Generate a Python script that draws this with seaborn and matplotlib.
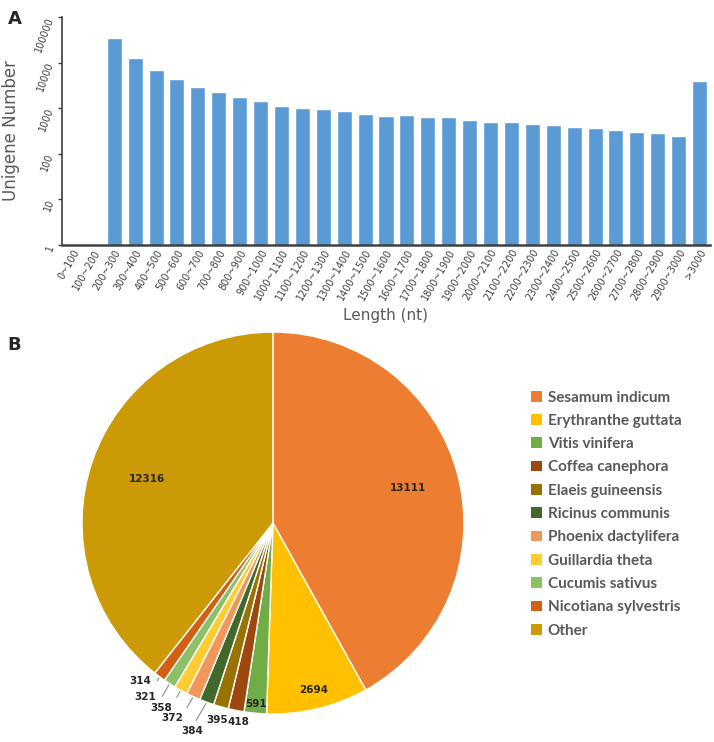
import numpy as np
import pandas as pd
import seaborn as sns
import matplotlib.pyplot as plt
from matplotlib.patches import Patch

# Panel A data: unigene length distribution
length_bins = ["0~100", "100~200", "200~300", "300~400", "400~500", "500~600",
               "600~700", "700~800", "800~900", "900~1000", "1000~1100",
               "1100~1200", "1200~1300", "1300~1400", "1400~1500", "1500~1600",
               "1600~1700", "1700~1800", "1800~1900", "1900~2000", "2000~2100",
               "2100~2200", "2200~2300", "2300~2400", "2400~2500", "2500~2600",
               "2600~2700", "2700~2800", "2800~2900", "2900~3000", ">3000"]
unigene_counts = [0, 0, 35150, 12600, 6770, 4300, 2920, 2265, 1790, 1415, 1117,
                  1026, 946, 881, 746, 685, 697, 631, 641, 551, 490, 498, 457,
                  422, 387, 362, 333, 306, 286, 249, 4010]
y_ticks = [1, 10, 100, 1000, 10000, 100000]

# Panel B data: species distribution
species = ["Sesamum indicum", "Erythranthe guttata", "Vitis vinifera",
           "Coffea canephora", "Elaeis guineensis", "Ricinus communis",
           "Phoenix dactylifera", "Guillardia theta", "Cucumis sativus",
           "Nicotiana sylvestris", "Other"]
species_counts = [13111, 2694, 591, 418, 395, 384, 372, 358, 321, 314, 12316]
species_colors = ["#ED7D31", "#FFC000", "#70AD47", "#9E480E", "#997300",
                  "#43682B", "#F1975A", "#FFCD33", "#8CC168", "#D26012", "#CC9A06"]

sns.set_theme(style="white")
plt.rcParams['font.family'] = ['DejaVu Sans']

GREY = "#595959"
DARK = "#404040"

fig = plt.figure(figsize=(7.14, 7.42), dpi=100)

# ── A: bar chart ───────────────────────────────────────────
ax1 = fig.add_axes([0.0868, 0.670, 0.9076, 0.307])
df = pd.DataFrame({"bin": length_bins, "count": unigene_counts})
sns.barplot(data=df, x="bin", y="count", color="#5B9BD5", saturation=1,
            width=0.72, edgecolor="white", linewidth=1, ax=ax1)
ax1.set_yscale("log")
ax1.set_ylim(1, 100000)
ax1.set_xlim(-0.5, len(length_bins) - 0.5)
ax1.set_yticks(y_ticks)
ax1.set_yticklabels([str(t) for t in y_ticks])
ax1.minorticks_off()
ax1.tick_params(axis="y", labelsize=7, colors=DARK,
                length=3, width=1, left=True, pad=5)
ax1.tick_params(axis="x", labelsize=7, colors=DARK, length=0, pad=2)
for lbl in ax1.get_xticklabels():
    lbl.set_rotation(60)
    lbl.set_ha("right")
    lbl.set_rotation_mode("anchor")
for lbl in ax1.get_yticklabels():
    lbl.set_rotation(70)
    lbl.set_rotation_mode("anchor")
    lbl.set_va("center")
    lbl.set_ha("right")
for s in ["top", "right"]:
    ax1.spines[s].set_visible(False)
ax1.spines["left"].set_color(DARK)
ax1.spines["left"].set_linewidth(1.2)
ax1.spines["bottom"].set_color(DARK)
ax1.spines["bottom"].set_linewidth(1.8)
ax1.set_xlabel("Length (nt)", fontsize=11, color=GREY, labelpad=4)
ax1.set_ylabel("Unigene Number", fontsize=12, color=GREY, labelpad=10)

fig.text(0.011, 0.975, "A", fontsize=13, fontweight="bold", va="center")
fig.text(0.011, 0.535, "B", fontsize=13, fontweight="bold", va="center")

# ── B: pie chart ───────────────────────────────────────────
ax2 = fig.add_axes([0.1148, 0.0377, 0.535, 0.5148])
wedges, _ = ax2.pie(species_counts, colors=species_colors, startangle=90,
                    counterclock=False, radius=1,
                    wedgeprops=dict(edgecolor="white", linewidth=1))
ax2.set_aspect("equal")
ax2.set_xlim(-1, 1)
ax2.set_ylim(-1, 1)
ax2.axis("off")

# label radius and angle shift per slice (style, not data)
label_r = [0.73, 0.90, 0.95, 1.06, 1.07, 1.17, 1.15, 1.13, 1.13, 1.08, 0.70]
label_da = [0, 0, 0, 1.2, 0.1, -1.0, -2.5, -2.3, -3.5, -3.7, 0]
leader = [False, False, False, False, False, True, True, True, True, True, False]

for i, w in enumerate(wedges):
    mid = np.deg2rad((w.theta1 + w.theta2) / 2)
    ang = mid + np.deg2rad(label_da[i])
    tx, ty = label_r[i] * np.cos(ang), label_r[i] * np.sin(ang)
    if leader[i]:
        ex, ey = 1.0 * np.cos(mid), 1.0 * np.sin(mid)
        ax2.annotate(str(species_counts[i]), xy=(ex, ey), xytext=(tx, ty),
                     fontsize=7.5, fontweight="bold", color="#262626",
                     ha="center", va="center", annotation_clip=False,
                     arrowprops=dict(arrowstyle="-", color="#8C8C8C", lw=0.8,
                                     shrinkA=2, shrinkB=1,
                                     connectionstyle="angle,angleA=0,angleB=60,rad=0"))
    else:
        ax2.text(tx, ty, str(species_counts[i]), fontsize=7.5,
                 fontweight="bold", color="#262626", ha="center", va="center")

handles = [Patch(facecolor=c, edgecolor="none") for c in species_colors]
leg = fig.legend(handles, species, loc="upper left",
                 bbox_to_anchor=(0.733, 0.484), frameon=False,
                 handlelength=0.7, handleheight=0.7, handletextpad=0.4,
                 labelspacing=0.61, borderpad=0,
                 prop=dict(family="Lato", size=11, weight="bold"))
for t in leg.get_texts():
    t.set_color(GREY)

fig.savefig("out.png", dpi=100)
